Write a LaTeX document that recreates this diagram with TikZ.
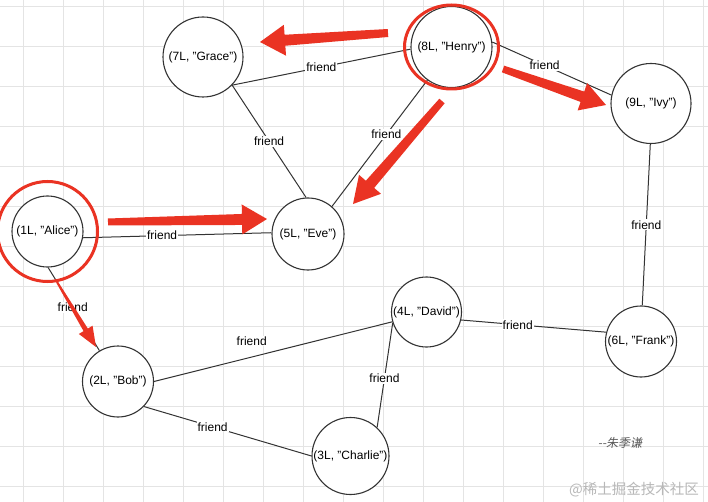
\documentclass[tikz,border=0pt]{standalone}
\usepackage{fontspec}
\setmainfont{Liberation Sans}
\newfontfamily\cjk{Noto Sans CJK SC}
\newfontfamily\cjkit[FakeSlant=0.2]{Noto Sans CJK SC}
\usetikzlibrary{calc}
\definecolor{arrowred}{RGB}{234,51,35}
\definecolor{gridgray}{RGB}{228,228,228}
\definecolor{ink}{RGB}{51,51,51}
\tikzset{
  gridline/.style={draw=gridgray, line width=0.9pt},
  person/.style={circle, draw=ink, line width=1.1pt, fill=white, inner sep=0pt, text=black,
    font=\fontsize{12}{14}\selectfont},
  link/.style={draw=ink, line width=1pt},
  lbl/.style={fill=white, inner sep=1pt, text=black, font=\fontsize{12}{14}\selectfont},
  highlight/.style={draw=arrowred, line width=3pt}
}
\newcommand{\redarrow}[6]{%
  \pgfpointdiff{\pgfpointanchor{#1}{center}}{\pgfpointanchor{#2}{center}}%
  \pgfgetlastxy{\rArDx}{\rArDy}%
  \pgfmathsetmacro{\rArAng}{atan2(\rArDy,\rArDx)}%
  \pgfmathsetmacro{\rArLen}{veclen(\rArDx,\rArDy)}%
  \begin{scope}[shift={(#1)}, rotate=\rArAng, x=1pt, y=1pt]
    \fill[arrowred] (0,-#3/2) -- (\rArLen-#6,-#4/2) -- (\rArLen-#6,-#5/2) -- (\rArLen,0)
      -- (\rArLen-#6,#5/2) -- (\rArLen-#6,#4/2) -- (0,#3/2) -- cycle;
  \end{scope}}
\begin{document}
\begin{tikzpicture}[x=1pt, y=-1pt]
\useasboundingbox (0,0) rectangle (708,502);
\fill[white] (0,0) rectangle (708,502);
% grid
\foreach \gx in {23,63,...,703} \draw[gridline] (\gx,0) -- (\gx,502);
\foreach \gy in {6,46,...,486} \draw[gridline] (0,\gy) -- (708,\gy);

% nodes
\node[person, minimum size=80pt] (grace) at (203,57) {(7L, "Grace")};
\node[person, minimum size=81pt] (henry) at (451.5,47) {(8L, "Henry")};
\node[person, minimum size=80pt] (ivy) at (651,103.5) {(9L, "Ivy")};
\node[person, minimum size=72pt] (eve) at (308,234) {(5L, "Eve")};
\node[person, minimum size=71pt] (alice) at (47.5,231.5) {(1L, "Alice")};
\node[person, minimum size=71pt] (bob) at (118,381.5) {(2L, "Bob")};
\node[person, minimum size=77pt] (charlie) at (350.5,456) {(3L, "Charlie")};
\node[person, minimum size=70pt] (david) at (426.5,312) {(4L, "David")};
\node[person, minimum size=71pt] (frank) at (641,341.5) {(6L, "Frank")};

% edges
\draw[link] (grace.-44) -- node[lbl,pos=0.5]{friend} (henry.183);
\draw[link] (grace.-44) -- node[lbl,pos=0.5]{friend} (eve.93);
\draw[link] (henry.-126) -- node[lbl,pos=0.43]{friend} (eve.49);
\draw[link] (henry.7) -- node[lbl,pos=0.44]{friend} (ivy.168);
\draw[link] (ivy.-91) -- node[lbl,pos=0.5]{friend} (frank.88);
\draw[link] (alice.-10) -- node[lbl,pos=0.42]{friend} (eve.178);
\draw[link] (alice.-89) -- node[lbl,pos=0.48]{friend} (bob.121);
\draw[link] (bob.0) -- node[lbl,pos=0.41,yshift=16pt]{friend} (david.196);
\draw[link] (bob.-44) -- node[lbl,pos=0.41]{friend} (charlie.180);
\draw[link] (david.198) -- node[lbl,pos=0.53]{friend} (charlie.47);
\draw[link] (david.-13) -- node[lbl,pos=0.39]{friend} (frank.165);

% highlights
\draw[highlight] (alice.center) circle[radius=50pt];
\draw[highlight] (henry.center) ellipse[x radius=47pt, y radius=42pt];

% red arrows
\coordinate (a1t) at (388,33);  \coordinate (a1h) at (260,42);
\coordinate (a2t) at (503,69);  \coordinate (a2h) at (606,105);
\coordinate (a3t) at (442,101); \coordinate (a3h) at (353,204);
\coordinate (a4t) at (108,222); \coordinate (a4h) at (267,219);
\coordinate (a5t) at (57,282);  \coordinate (a5h) at (96,347);
\redarrow{a1t}{a1h}{8}{11}{31}{25}
\redarrow{a2t}{a2h}{7}{11}{29}{25}
\redarrow{a3t}{a3h}{7}{11}{29}{26}
\redarrow{a4t}{a4h}{7}{11}{30}{25}
\redarrow{a5t}{a5h}{2}{5}{16}{20}

% signature and watermark
\node[text=black!65, font=\cjkit\fontsize{12}{14}\selectfont] (sig) at (620,443) {--朱季谦};
\node[text=black!28, font=\cjk\fontsize{14.5}{16}\selectfont] (wm) at (634,490) {@稀土掘金技术社区};
\end{tikzpicture}
\end{document}
